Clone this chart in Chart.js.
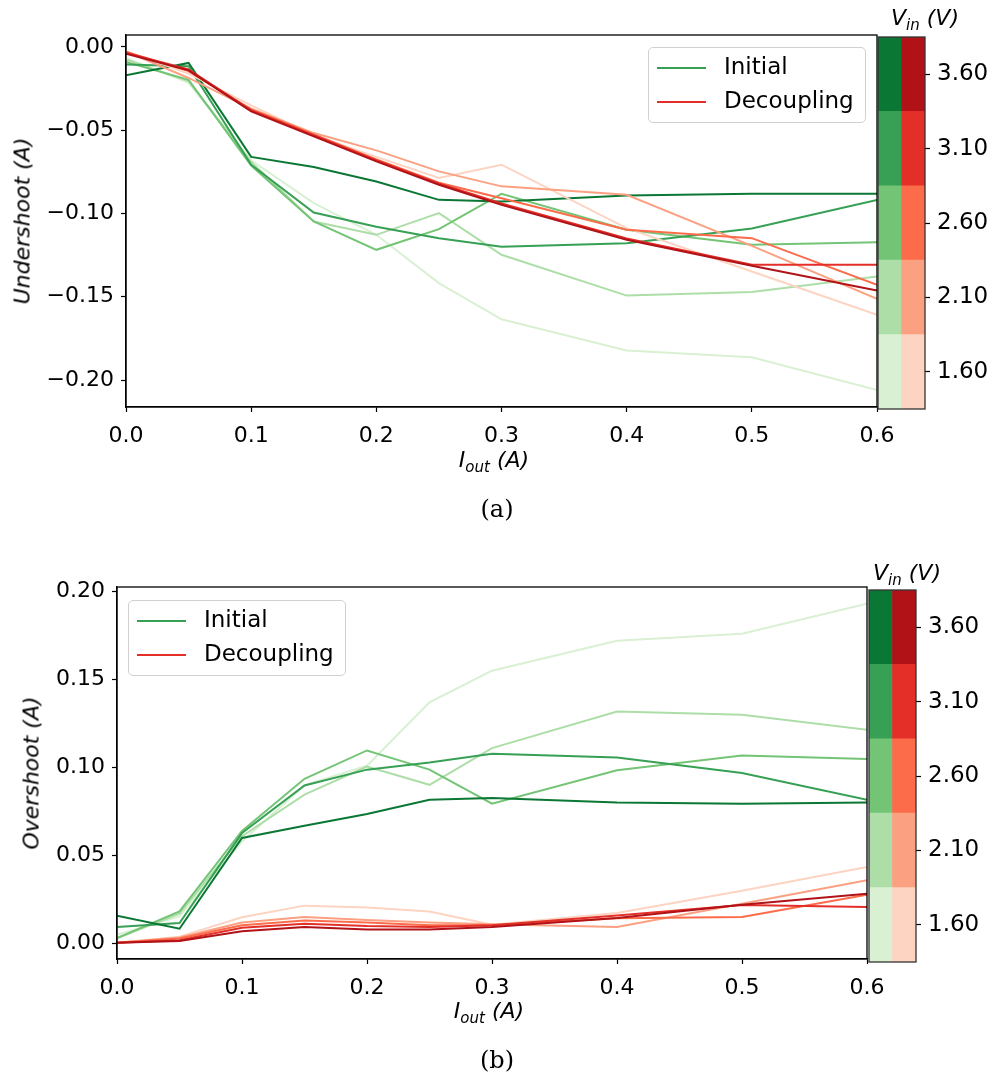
<!DOCTYPE html>
<html>
<head>
<meta charset="utf-8">
<script src="https://cdn.jsdelivr.net/npm/chart.js@4.4.0/dist/chart.umd.min.js"></script>
<style>
body { margin: 0; background: #fff; width: 995px; height: 1077px; position: relative; overflow: hidden; font-family: 'DejaVu Sans', sans-serif; }
canvas { position: absolute; }
.txt { position: absolute; color: #000; font-size: 22px; white-space: nowrap; transform: translate(-50%, -50%); font-style: italic; }
.txt sub { font-size: 15px; vertical-align: -5px; }
.ytitle { transform: translate(-50%, -50%) rotate(-90deg); }
.cap { position: absolute; font-family: 'DejaVu Serif', serif; font-size: 24px; transform: translate(-50%, -50%); }
.legend { position: absolute; border: 1px solid #d0d0d0; border-radius: 5px; background: rgba(255,255,255,0.85); width: 216px; height: 74px; font-size: 23px; }
.legend .row { position: absolute; left: 0; height: 30px; }
.legend .ln { position: absolute; left: 8px; width: 49px; height: 2px; top: 14px; }
.legend .lt { position: absolute; left: 75px; top: 0px; }
</style>
</head>
<body>
<canvas id="chartA" width="910" height="447" style="left:0;top:0"></canvas>
<canvas id="chartB" width="900" height="447" style="left:0;top:552px"></canvas>
<canvas id="barA" width="125" height="420" style="left:870px;top:0"></canvas>
<canvas id="barB" width="134" height="420" style="left:861px;top:553px"></canvas>

<div class="txt ytitle" style="left:22px;top:221px">Undershoot (A)</div>
<div class="txt" style="left:494px;top:461px">I<sub>out</sub> (A)</div>
<div class="txt" style="left:925px;top:19px">V<sub>in</sub> (V)</div>
<div class="cap" style="left:497px;top:509px">(a)</div>
<div class="legend" style="left:648px;top:47px">
  <div class="row" style="top:5px"><div class="ln" style="background:#37a055"></div><div class="lt">Initial</div></div>
  <div class="row" style="top:39px"><div class="ln" style="background:#e32f27"></div><div class="lt">Decoupling</div></div>
</div>

<div class="txt ytitle" style="left:31px;top:773px">Overshoot (A)</div>
<div class="txt" style="left:489px;top:1012px">I<sub>out</sub> (A)</div>
<div class="txt" style="left:907px;top:574px">V<sub>in</sub> (V)</div>
<div class="cap" style="left:497px;top:1060px">(b)</div>
<div class="legend" style="left:128px;top:600px">
  <div class="row" style="top:5px"><div class="ln" style="background:#37a055"></div><div class="lt">Initial</div></div>
  <div class="row" style="top:39px"><div class="ln" style="background:#e32f27"></div><div class="lt">Decoupling</div></div>
</div>

<script>
// output current (A)
const iout = [0, 0.05, 0.1, 0.15, 0.2, 0.25, 0.3, 0.4, 0.5, 0.6];
// input voltages, low to high
const vin = [1.6, 2.1, 2.6, 3.1, 3.6];
const greens = ['#d9f0d3', '#addea7', '#74c476', '#37a055', '#0b7734'];
const reds = ['#fdd3c1', '#fca082', '#fc6c4a', '#e32f27', '#b11218'];

const xTicks = [0, 0.1, 0.2, 0.3, 0.4, 0.5, 0.6];
const yTicksA = [-0.20, -0.15, -0.10, -0.05, 0.00];
const yTicksB = [0.00, 0.05, 0.10, 0.15, 0.20];

// (a) undershoot, one row per vin
const underInit = [
  [-0.0066, -0.0215, -0.068, -0.0938, -0.1128, -0.1418, -0.1635, -0.1823, -0.1863, -0.206],
  [-0.0075, -0.0205, -0.069, -0.1048, -0.1128, -0.0998, -0.1248, -0.1493, -0.1472, -0.1379],
  [-0.009, -0.0197, -0.0712, -0.1048, -0.1218, -0.1094, -0.0882, -0.1098, -0.1188, -0.1172],
  [-0.0105, -0.0116, -0.0707, -0.0994, -0.108, -0.1148, -0.120, -0.1178, -0.109, -0.0918],
  [-0.017, -0.0096, -0.066, -0.0721, -0.0808, -0.0918, -0.0928, -0.0892, -0.0882, -0.0882]
];
const underDec = [
  [-0.0025, -0.016, -0.035, -0.053, -0.066, -0.0787, -0.0707, -0.1088, -0.1348, -0.1609],
  [-0.0027, -0.0186, -0.037, -0.0517, -0.0621, -0.0747, -0.0837, -0.0888, -0.1194, -0.1513],
  [-0.003, -0.0145, -0.0375, -0.0525, -0.0675, -0.0815, -0.0908, -0.1098, -0.1148, -0.1428],
  [-0.0035, -0.0135, -0.038, -0.053, -0.068, -0.082, -0.094, -0.115, -0.1308, -0.1308],
  [-0.004, -0.014, -0.0387, -0.0537, -0.0687, -0.0827, -0.0948, -0.1158, -0.1314, -0.1463]
];

// (b) overshoot
const overInit = [
  [0.005, 0.0155, 0.058, 0.090, 0.101, 0.137, 0.155, 0.172, 0.176, 0.193],
  [0.003, 0.017, 0.061, 0.0846, 0.1006, 0.0902, 0.1110, 0.1318, 0.1300, 0.1215],
  [0.0032, 0.0183, 0.064, 0.0936, 0.1097, 0.0988, 0.0795, 0.0984, 0.1069, 0.1048],
  [0.0095, 0.0117, 0.0628, 0.0898, 0.0988, 0.1029, 0.1078, 0.1057, 0.0969, 0.0817],
  [0.0159, 0.0085, 0.060, 0.067, 0.0736, 0.0817, 0.0827, 0.0802, 0.0795, 0.0802]
];
const overDec = [
  [0.0005, 0.004, 0.015, 0.0216, 0.0206, 0.0183, 0.0108, 0.0174, 0.030, 0.0435],
  [0.0005, 0.0035, 0.012, 0.0151, 0.0135, 0.012, 0.011, 0.0095, 0.0227, 0.036],
  [0.0005, 0.003, 0.0105, 0.0132, 0.012, 0.0105, 0.0105, 0.0145, 0.0151, 0.0278],
  [0.0005, 0.002, 0.009, 0.0113, 0.010, 0.0095, 0.0105, 0.016, 0.022, 0.0208],
  [0.0005, 0.0015, 0.007, 0.0095, 0.008, 0.008, 0.0095, 0.0146, 0.0221, 0.0284]
];

Chart.defaults.font.family = "'DejaVu Sans', sans-serif";
Chart.defaults.font.size = 22;
Chart.defaults.color = '#000';

// black box round the plot area, like matplotlib spines
const frame = {
  id: 'frame',
  afterDraw(chart) {
    const a = chart.chartArea, c = chart.ctx;
    c.save();
    c.strokeStyle = chart.options.frameColor || '#000';
    c.lineWidth = 1.3;
    c.strokeRect(a.left, a.top, a.right - a.left, a.bottom - a.top);
    c.restore();
  }
};

function fmt(v) {
  if (Math.abs(v) < 1e-9) v = 0;
  return (v < 0 ? '\u2212' : '') + Math.abs(v).toFixed(2);
}

function makeSets(init, dec) {
  const sets = [];
  vin.forEach((v, i) => {
    sets.push({
      data: iout.map((x, k) => ({x: x, y: init[i][k]})),
      borderColor: greens[i], borderWidth: 2, pointRadius: 0, tension: 0,
      order: 10 - i
    });
    sets.push({
      data: iout.map((x, k) => ({x: x, y: dec[i][k]})),
      borderColor: reds[i], borderWidth: 2, pointRadius: 0, tension: 0,
      order: 5 - i
    });
  });
  return sets;
}

function lineChart(id, init, dec, yTicks, ymin, ymax, yWidth, right) {
  return new Chart(document.getElementById(id), {
    type: 'line',
    data: { datasets: makeSets(init, dec) },
    options: {
      responsive: false,
      animation: false,
      events: [],
      layout: { padding: { top: 35, right: right, left: 0, bottom: 0 } },
      plugins: { legend: { display: false }, tooltip: { enabled: false } },
      scales: {
        x: {
          type: 'linear', min: 0, max: 0.6,
          grid: { drawOnChartArea: false, tickLength: 5, color: '#000', tickWidth: 1.2 },
          border: { color: '#000', width: 1.3 },
          ticks: { padding: 11, maxRotation: 0, callback: v => v.toFixed(1) },
          afterBuildTicks: s => { s.ticks = xTicks.map(v => ({value: v})); },
          afterFit: s => { s.height = 40; s.paddingLeft = 0; s.paddingRight = 0; }
        },
        y: {
          min: ymin, max: ymax,
          grid: { drawOnChartArea: false, tickLength: 5, color: '#000', tickWidth: 1.2 },
          border: { color: '#000', width: 1.3 },
          ticks: { padding: 7, callback: v => fmt(v) },
          afterBuildTicks: s => { s.ticks = yTicks.map(v => ({value: v})); },
          afterFit: s => { s.width = yWidth; s.paddingTop = 0; s.paddingBottom = 0; }
        }
      }
    },
    plugins: [frame]
  });
}

function colorBar(id, yWidth) {
  const half = (vin[1] - vin[0]) / 2;
  return new Chart(document.getElementById(id), {
    type: 'bar',
    data: {
      labels: ['Initial', 'Decoupling'],
      datasets: vin.map((v, i) => ({
        data: [[v - half, v + half], [v - half, v + half]],
        backgroundColor: [greens[i], reds[i]],
        borderWidth: 0, grouped: false,
        barPercentage: 1, categoryPercentage: 1
      }))
    },
    options: {
      responsive: false,
      animation: false,
      events: [],
      frameColor: '#333',
      layout: { padding: { top: 37, bottom: 11, left: 8, right: 0 } },
      plugins: { legend: { display: false }, tooltip: { enabled: false } },
      scales: {
        x: { display: false },
        y: {
          position: 'right',
          min: vin[0] - half, max: vin[vin.length - 1] + half,
          grid: { drawOnChartArea: false, tickLength: 5, color: '#000', tickWidth: 1.2 },
          border: { display: false },
          ticks: { padding: 7, font: { size: 23 }, callback: v => v.toFixed(2) },
          afterBuildTicks: s => { s.ticks = vin.map(v => ({value: v})); },
          afterFit: s => { s.width = yWidth; s.paddingTop = 0; s.paddingBottom = 0; }
        }
      }
    },
    plugins: [frame]
  });
}

lineChart('chartA', underInit, underDec, yTicksA, -0.2162, 0.0072, 126, 33);
lineChart('chartB', overInit, overDec, yTicksB, -0.0087, 0.2025, 117, 33);
colorBar('barA', 70);
colorBar('barB', 79);
</script>
</body>
</html>
